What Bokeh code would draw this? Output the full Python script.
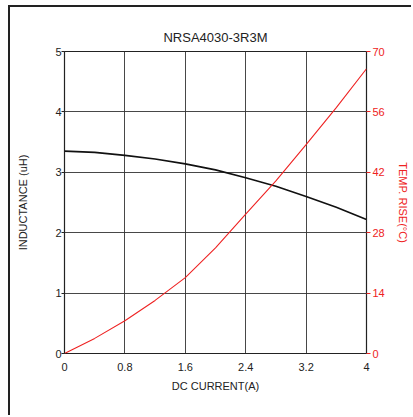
from bokeh.plotting import figure
from bokeh.models import LinearAxis, Range1d, FixedTicker, Title, InlineStyleSheet
from bokeh.embed import file_html
from bokeh.resources import INLINE

current = [0, 0.4, 0.8, 1.2, 1.6, 2.0, 2.4, 2.8, 3.2, 3.6, 4.0]
inductance = [3.35, 3.33, 3.28, 3.22, 3.14, 3.04, 2.91, 2.77, 2.60, 2.42, 2.22]
temp_rise = [0, 3.5, 7.6, 12.3, 17.6, 24.5, 32.3, 40.0, 48.4, 57.0, 66.0]
x_ticks = [0, 0.8, 1.6, 2.4, 3.2, 4]
y_ticks = [0, 1, 2, 3, 4, 5]
t_ticks = [0, 14, 28, 42, 56, 70]
title_text = "NRSA4030-3R3M"

FONT = "Liberation Sans"

p = figure(width=403, height=410, output_backend="svg", toolbar_location=None,
           x_range=Range1d(0, 4), y_range=Range1d(0, 5),
           min_border_left=54, min_border_right=47, min_border_top=44, min_border_bottom=64)
p.extra_y_ranges = {"temp": Range1d(0, 70)}

p.outline_line_color = "#222222"
p.outline_line_width = 1.2

for g in (p.xgrid, p.ygrid):
    g.grid_line_color = "#333333"
    g.grid_line_width = 1
    g.grid_line_alpha = 0.9
p.xgrid.ticker = FixedTicker(ticks=x_ticks)
p.ygrid.ticker = FixedTicker(ticks=y_ticks)

xa = p.xaxis[0]
xa.ticker = FixedTicker(ticks=x_ticks)
xa.axis_label = "DC CURRENT(A)"
xa.major_tick_out = 0
xa.major_tick_in = 0
xa.minor_tick_out = 0
xa.axis_line_color = None
xa.major_label_standoff = 9
xa.axis_label_standoff = 6

ya = p.yaxis[0]
ya.ticker = FixedTicker(ticks=y_ticks)
ya.axis_label = "INDUCTANCE (uH)"
ya.major_tick_out = 3
ya.major_tick_in = 0
ya.minor_tick_out = 0
ya.axis_line_color = None
ya.major_tick_line_color = "#222222"
ya.major_label_standoff = 0
ya.axis_label_standoff = 23

ra = LinearAxis(y_range_name="temp", ticker=FixedTicker(ticks=t_ticks),
                axis_label="TEMP. RISE(°C)")
ra.major_tick_out = 4
ra.major_tick_in = 0
ra.minor_tick_out = 0
ra.axis_line_color = None
ra.major_tick_line_color = "#ee2222"
ra.major_label_text_color = "#ee2222"
ra.axis_label_text_color = "#ee2222"
ra.major_label_standoff = 2
ra.axis_label_standoff = 9
p.add_layout(ra, "right")

for ax in (xa, ya, ra):
    ax.major_label_text_font = FONT
    ax.major_label_text_font_size = "11px"
    ax.axis_label_text_font = FONT
    ax.axis_label_text_font_size = "11px"
    ax.axis_label_text_font_style = "normal"
    if ax is not ra:
        ax.major_label_text_color = "#222222"
        ax.axis_label_text_color = "#222222"

p.line(current, inductance, line_color="#111111", line_width=1.6)
p.line(current, temp_rise, y_range_name="temp", line_color="#ee2222", line_width=1.1)

spacer = Title(text=" ", text_font_size="4px", standoff=0)
p.add_layout(spacer, "above")
p.add_layout(Title(text=title_text, align="center", text_font=FONT,
                   text_font_size="13px", text_font_style="normal",
                   text_color="#222222", standoff=0), "above")

p.stylesheets = [InlineStyleSheet(css=":host { border-left: 2px solid #222222; border-top: 2px solid #222222; margin-left: 8px; margin-top: 5px; }")]

open("out.html", "w").write(file_html(p, INLINE))
